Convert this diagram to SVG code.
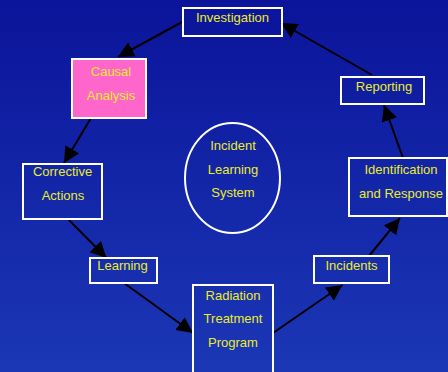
<svg xmlns="http://www.w3.org/2000/svg" width="448" height="372" viewBox="0 0 448 372">
<defs>
<linearGradient id="bg" x1="0" y1="0" x2="0" y2="1">
<stop offset="0" stop-color="#0b149a"/>
<stop offset="1" stop-color="#1b37b6"/>
</linearGradient>
<marker id="ah" markerUnits="userSpaceOnUse" markerWidth="17" markerHeight="17" refX="16" refY="8" orient="auto">
<path d="M0,0 L16,8 L0,16 z" fill="#000"/>
</marker>
<style>
.box{fill:none;stroke:#fff;stroke-width:2}
.t{font-family:"Liberation Sans",Arial,sans-serif;font-size:13px;fill:#ecec2a;text-anchor:middle}
.c{stroke:#000;stroke-width:2;fill:none;marker-end:url(#ah)}
</style>
</defs>
<rect width="448" height="372" fill="url(#bg)"/>
<g id="connectors">
<line class="c" x1="182" y1="22" x2="118" y2="57"/>
<line class="c" x1="91" y1="118" x2="64" y2="163"/>
<line class="c" x1="68" y1="219" x2="106.5" y2="258"/>
<line class="c" x1="124" y1="283" x2="193" y2="333"/>
<line class="c" x1="273" y1="333" x2="342.5" y2="285"/>
<line class="c" x1="369" y1="256" x2="400" y2="218"/>
<line class="c" x1="403" y1="158" x2="384" y2="105"/>
<line class="c" x1="372" y1="75" x2="281" y2="23"/>
</g>
<g id="investigation">
<rect class="box" x="183" y="8" width="99" height="28"/>
<text class="t" x="232.5" y="22">Investigation</text>
</g>
<g id="causal-analysis">
<rect x="72" y="59" width="74" height="59" fill="#ff66cc" stroke="#fff" stroke-width="2"/>
<text class="t" x="111" y="76">Causal</text>
<text class="t" x="111" y="100">Analysis</text>
</g>
<g id="corrective-actions">
<rect class="box" x="23" y="164" width="79" height="55"/>
<text class="t" x="62.5" y="176">Corrective</text>
<text class="t" x="63" y="200">Actions</text>
</g>
<g id="learning">
<rect class="box" x="90" y="258" width="67" height="25"/>
<text class="t" x="122.5" y="270">Learning</text>
</g>
<g id="radiation-treatment-program">
<rect class="box" x="193" y="285" width="80" height="100"/>
<text class="t" x="233" y="300">Radiation</text>
<text class="t" x="233" y="323">Treatment</text>
<text class="t" x="233" y="347">Program</text>
</g>
<g id="incidents">
<rect class="box" x="314" y="256" width="75" height="27"/>
<text class="t" x="351.5" y="270">Incidents</text>
</g>
<g id="identification-response">
<rect class="box" x="349" y="158" width="98" height="58"/>
<text class="t" x="401" y="174">Identification</text>
<text class="t" x="401" y="198">and Response</text>
</g>
<g id="reporting">
<rect class="box" x="341" y="77" width="83" height="27"/>
<text class="t" x="384" y="91">Reporting</text>
</g>
<g id="incident-learning-system">
<ellipse cx="232.5" cy="178" rx="47.5" ry="55" fill="none" stroke="#fff" stroke-width="2"/>
<text class="t" x="233" y="150">Incident</text>
<text class="t" x="233" y="174">Learning</text>
<text class="t" x="233" y="197">System</text>
</g>
</svg>
